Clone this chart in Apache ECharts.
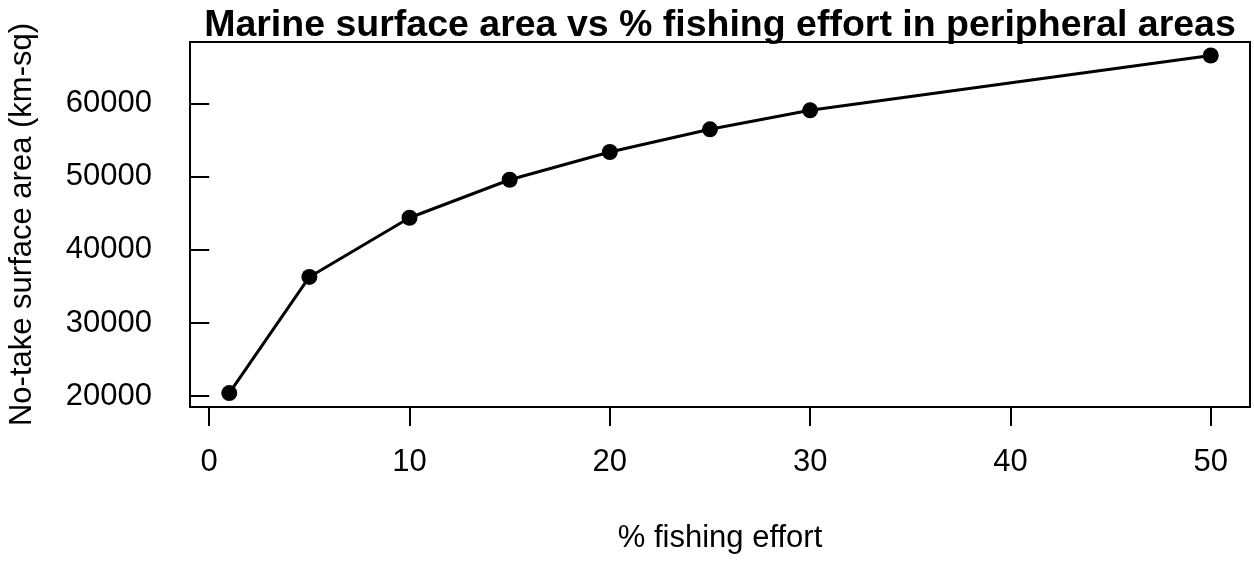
<!DOCTYPE html>
<html>
<head>
<meta charset="utf-8">
<script src="https://cdn.jsdelivr.net/npm/echarts@6/dist/echarts.min.js"></script>
<style>
html,body{margin:0;padding:0;background:#fff;}
#chart{width:1254px;height:563px;}
</style>
</head>
<body>
<div id="chart"></div>
<script>
const effort = [1, 5, 10, 15, 20, 25, 30, 50];
const area = [20400, 36300, 44400, 49600, 53400, 56500, 59100, 66600];
const xTicks = [0, 10, 20, 30, 40, 50];
const yTicks = [20000, 30000, 40000, 50000, 60000];
const titleText = 'Marine surface area vs % fishing effort in peripheral areas';
const xTitle = '% fishing effort';
const yTitle = 'No-take surface area (km-sq)';

const FONT = '"Liberation Sans", Arial, Helvetica, sans-serif';
const chart = echarts.init(document.getElementById('chart'), null, {renderer: 'canvas'});
chart.setOption({
  animation: false,
  backgroundColor: '#fff',
  graphic: [{
    type: 'text',
    x: 720, y: 45,
    style: {
      text: titleText,
      font: 'bold 37.5px ' + FONT,
      fill: '#000',
      textAlign: 'center',
      textVerticalAlign: 'bottom'
    }
  }],
  grid: {
    left: 190, right: 4, top: 42, bottom: 156,
    outerBoundsMode: 'none',
    containLabel: false,
    show: true, borderColor: '#000', borderWidth: 2, backgroundColor: 'transparent'
  },
  xAxis: {
    type: 'value',
    min: -0.96, max: 51.96,
    name: xTitle,
    nameLocation: 'middle',
    nameGap: 116,
    nameTextStyle: {fontFamily: FONT, fontSize: 31, color: '#000'},
    axisLine: {show: false},
    axisTick: {show: true, inside: false, length: 19, customValues: xTicks, lineStyle: {color: '#000', width: 2}},
    axisLabel: {show: true, customValues: xTicks, margin: 40, fontFamily: FONT, fontSize: 31, color: '#000',
      formatter: v => String(v)},
    splitLine: {show: false}
  },
  yAxis: {
    type: 'value',
    min: 18500, max: 68450,
    name: yTitle,
    nameLocation: 'middle',
    nameGap: 152,
    nameRotate: 90,
    nameTextStyle: {fontFamily: FONT, fontSize: 31, color: '#000'},
    axisLine: {show: false},
    axisTick: {show: true, inside: false, length: 19, customValues: yTicks, lineStyle: {color: '#000', width: 2}},
    axisLabel: {show: true, customValues: yTicks, margin: 38, fontFamily: FONT, fontSize: 31, color: '#000',
      formatter: v => String(v)},
    splitLine: {show: false}
  },
  series: [{
    type: 'line',
    data: effort.map((x, i) => [x, area[i]]),
    symbol: 'circle',
    symbolSize: 16,
    showSymbol: true,
    lineStyle: {color: '#000', width: 3},
    itemStyle: {color: '#000', borderWidth: 0},
    emphasis: {disabled: true}
  }]
});
</script>
</body>
</html>
